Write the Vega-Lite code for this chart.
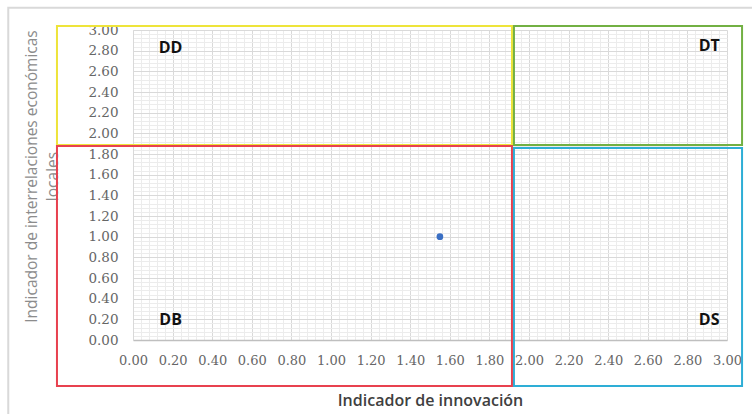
{
  "$schema": "https://vega.github.io/schema/vega-lite/v6.json",
  "width": 594,
  "height": 310,
  "autosize": "none",
  "padding": {"left": 133, "top": 30, "right": 25, "bottom": 74},
  "background": "white",
  "config": {"view": {"stroke": null}},
  "datasets": {
    "zones": [
      {"zona": "marco", "x0": -0.63, "x1": 3.2, "y0": -0.9, "y1": 3.215},
      {"zona": "DD", "x0": -0.384, "x1": 1.914, "y0": 1.887, "y1": 3.039},
      {"zona": "DB", "x0": -0.384, "x1": 1.914, "y0": -0.445, "y1": 1.877},
      {"zona": "DT", "x0": 1.924, "x1": 3.076, "y0": 1.887, "y1": 3.039},
      {"zona": "DS", "x0": 1.924, "x1": 3.076, "y0": -0.445, "y1": 1.858}
    ],
    "etiquetas": [
      {"texto": "DD", "x": 0.19, "y": 2.83},
      {"texto": "DT", "x": 2.91, "y": 2.85},
      {"texto": "DB", "x": 0.19, "y": 0.19},
      {"texto": "DS", "x": 2.91, "y": 0.19}
    ],
    "puntos": [
      {"innovacion": 1.55, "interrelaciones": 1.0}
    ]
  },
  "resolve": {"axis": {"x": "independent", "y": "independent"}},
  "layer": [
    {
      "data": {"name": "puntos"},
      "mark": {"type": "point", "opacity": 0},
      "encoding": {
        "x": {
          "field": "innovacion", "type": "quantitative",
          "scale": {"domain": [0, 3], "nice": false, "zero": false},
          "axis": {
            "orient": "bottom",
            "values": [0.04,0.08,0.12,0.16,0.24,0.28,0.32,0.36,0.44,0.48,0.52,0.56,0.64,0.68,0.72,0.76,0.84,0.88,0.92,0.96,1.04,1.08,1.12,1.16,1.24,1.28,1.32,1.36,1.44,1.48,1.52,1.56,1.64,1.68,1.72,1.76,1.84,1.88,1.92,1.96,2.04,2.08,2.12,2.16,2.24,2.28,2.32,2.36,2.44,2.48,2.52,2.56,2.64,2.68,2.72,2.76,2.84,2.88,2.92,2.96],
            "grid": true, "gridColor": "#ececec", "gridWidth": 1,
            "labels": false, "ticks": false, "domain": false, "title": null
          }
        },
        "y": {
          "field": "interrelaciones", "type": "quantitative",
          "scale": {"domain": [0, 3], "nice": false, "zero": false},
          "axis": {
            "orient": "left",
            "values": [0.04,0.08,0.12,0.16,0.24,0.28,0.32,0.36,0.44,0.48,0.52,0.56,0.64,0.68,0.72,0.76,0.84,0.88,0.92,0.96,1.04,1.08,1.12,1.16,1.24,1.28,1.32,1.36,1.44,1.48,1.52,1.56,1.64,1.68,1.72,1.76,1.84,1.88,1.92,1.96,2.04,2.08,2.12,2.16,2.24,2.28,2.32,2.36,2.44,2.48,2.52,2.56,2.64,2.68,2.72,2.76,2.84,2.88,2.92,2.96],
            "grid": true, "gridColor": "#ececec", "gridWidth": 1,
            "labels": false, "ticks": false, "domain": false, "title": null
          }
        }
      }
    },
    {
      "data": {"name": "puntos"},
      "mark": {"type": "point", "opacity": 0},
      "encoding": {
        "x": {
          "field": "innovacion", "type": "quantitative",
          "axis": {
            "orient": "bottom",
            "values": [0,0.2,0.4,0.6,0.8,1,1.2,1.4,1.6,1.8,2,2.2,2.4,2.6,2.8,3],
            "format": ".2f",
            "grid": true, "gridColor": "#d9d9d9", "gridWidth": 1,
            "ticks": false,
            "domainColor": "#bfbfbf",
            "domainWidth": 1.5,
            "labelFont": "DejaVu Serif",
            "labelFontSize": 13,
            "labelColor": "#666666",
            "labelPadding": 14,
            "labelOverlap": false,
            "labelFlush": false,
            "title": "Indicador de innovación",
            "titleFont": "Open Sans",
            "titleFontSize": 16,
            "titleFontWeight": 600,
            "titleColor": "#404040",
            "titleY": 52
          }
        },
        "y": {
          "field": "interrelaciones", "type": "quantitative",
          "axis": {
            "orient": "left",
            "values": [0,0.2,0.4,0.6,0.8,1,1.2,1.4,1.6,1.8,2,2.2,2.4,2.6,2.8,3],
            "format": ".2f",
            "grid": true, "gridColor": "#d9d9d9", "gridWidth": 1,
            "ticks": false,
            "domain": true,
            "domainColor": "#d9d9d9",
            "labelFont": "DejaVu Serif",
            "labelFontSize": 13.5,
            "labelColor": "#666666",
            "labelPadding": 15,
            "labelOverlap": false,
            "labelFlush": false,
            "title": ["Indicador de interrelaciones económicas", "locales"],
            "titleFont": "Open Sans",
            "titleFontSize": 15.5,
            "titleFontWeight": "normal",
            "titleColor": "#8c8c8c",
            "titleAngle": -90,
            "titleX": -94,
            "titleY": 146,
            "titleLineHeight": 21
          }
        }
      }
    },
    {
      "data": {"name": "zones"},
      "mark": {"type": "rect", "filled": false, "strokeWidth": 2, "clip": false},
      "encoding": {
        "x": {"field": "x0", "type": "quantitative", "axis": null},
        "x2": {"field": "x1"},
        "y": {"field": "y0", "type": "quantitative", "axis": null},
        "y2": {"field": "y1"},
        "stroke": {
          "field": "zona", "type": "nominal",
          "scale": {"domain": ["marco", "DD", "DB", "DT", "DS"], "range": ["#d9d9d9", "#eee43a", "#e8414f", "#72b043", "#2eaed6"]},
          "legend": null
        }
      }
    },
    {
      "data": {"name": "puntos"},
      "mark": {"type": "circle", "size": 45, "color": "#3a6fc4", "opacity": 1},
      "encoding": {
        "x": {"field": "innovacion", "type": "quantitative", "axis": null},
        "y": {"field": "interrelaciones", "type": "quantitative", "axis": null}
      }
    },
    {
      "data": {"name": "etiquetas"},
      "mark": {"type": "text", "font": "Open Sans", "fontSize": 16, "fontWeight": "bold", "color": "#111111"},
      "encoding": {
        "x": {"field": "x", "type": "quantitative", "axis": null},
        "y": {"field": "y", "type": "quantitative", "axis": null},
        "text": {"field": "texto"}
      }
    }
  ]
}
